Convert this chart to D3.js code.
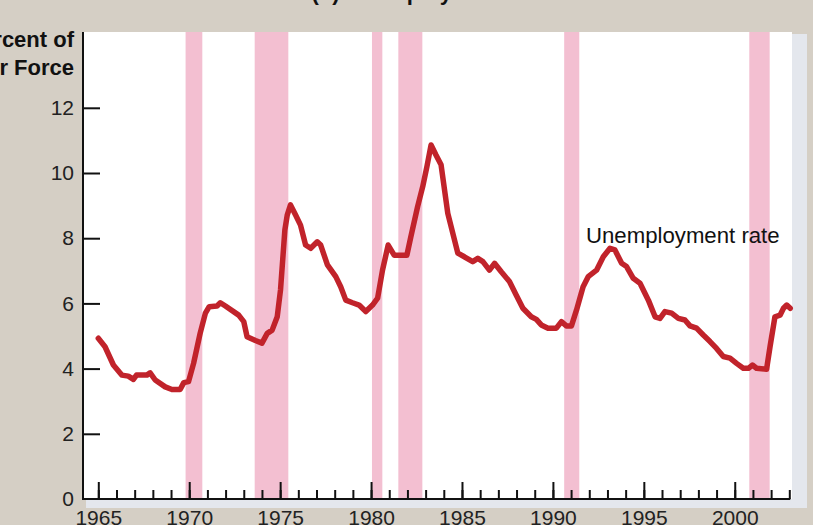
<!DOCTYPE html>
<html>
<head>
<meta charset="utf-8">
<script src="https://cdn.jsdelivr.net/npm/d3@7"></script>
<style>
  html, body { margin: 0; padding: 0; background: #d5cfc5; }
  svg { display: block; }
</style>
</head>
<body>
<svg id="chart" width="813" height="525"></svg>
<script>
// ---- Data ----
const years = [1965.0,1965.37,1965.83,1966.29,1966.65,1966.93,1967.1,1967.67,1967.85,1968.13,1968.68,1969.05,1969.5,1969.7,1969.96,1970.24,1970.6,1970.89,1971.1,1971.53,1971.71,1971.99,1972.72,1973.0,1973.18,1973.64,1974.0,1974.29,1974.56,1974.84,1975.02,1975.26,1975.39,1975.57,1975.85,1976.12,1976.4,1976.68,1977.04,1977.23,1977.6,1978.06,1978.33,1978.61,1978.98,1979.34,1979.71,1980.08,1980.36,1980.63,1980.94,1981.27,1981.97,1982.19,1982.56,1982.84,1983.07,1983.3,1983.57,1983.85,1984.22,1984.77,1985.13,1985.59,1985.87,1986.15,1986.51,1986.79,1987.16,1987.61,1987.98,1988.35,1988.81,1989.09,1989.36,1989.73,1990.19,1990.47,1990.74,1991.02,1991.3,1991.66,1991.94,1992.4,1992.77,1993.14,1993.41,1993.78,1994.05,1994.42,1994.79,1995.06,1995.25,1995.62,1995.89,1996.16,1996.53,1996.9,1997.26,1997.54,1997.9,1998.27,1998.64,1999.0,1999.37,1999.74,2000.1,2000.47,2000.75,2000.97,2001.2,2001.75,2001.94,2002.21,2002.49,2002.68,2002.86,2003.05];
const rates = [4.93,4.67,4.11,3.80,3.77,3.67,3.80,3.80,3.87,3.65,3.44,3.36,3.36,3.57,3.60,4.16,5.08,5.70,5.90,5.92,6.02,5.92,5.64,5.44,4.98,4.86,4.78,5.08,5.18,5.59,6.41,8.25,8.71,9.02,8.71,8.40,7.79,7.69,7.89,7.79,7.18,6.82,6.51,6.10,6.02,5.95,5.75,5.95,6.16,7.02,7.79,7.48,7.48,8.05,8.97,9.58,10.19,10.86,10.55,10.25,8.76,7.54,7.43,7.28,7.38,7.28,7.02,7.23,6.97,6.67,6.26,5.85,5.59,5.51,5.34,5.24,5.24,5.44,5.31,5.31,5.80,6.51,6.82,7.02,7.43,7.69,7.64,7.23,7.13,6.77,6.62,6.31,6.10,5.59,5.54,5.75,5.70,5.54,5.49,5.31,5.24,5.03,4.83,4.62,4.37,4.32,4.16,4.01,4.01,4.11,4.01,3.98,4.67,5.59,5.64,5.85,5.95,5.85];
const recessionStart = [1969.8, 1973.6, 1980.05, 1981.5, 1990.62, 2000.8];
const recessionEnd   = [1970.72, 1975.45, 1980.62, 1982.82, 1991.45, 2001.92];
const majorYears = [1965, 1970, 1975, 1980, 1985, 1990, 1995, 2000];
const minorYears = d3.range(1965, 2004);
const yTicks = [0, 2, 4, 6, 8, 10, 12];
const titleText = "(b) Unemployment";
const yLabelLines = ["Percent of", "Labor Force"];
const seriesLabel = "Unemployment rate";

// ---- Layout ----
const svg = d3.select("#chart");
const font = "'Liberation Sans', Arial, Helvetica, sans-serif";
const plotLeft = 83, plotTop = 32, plotRight = 792, axisY = 499;

const x = d3.scaleLinear().domain([1965, 2003]).range([98.3, 789.3]);
const y = d3.scaleLinear().domain([0, 12]).range([axisY, 107.8]);

// shadow + white plot panel
svg.append("rect").attr("x", plotLeft + 3).attr("y", plotTop + 2)
  .attr("width", 807 - plotLeft - 3).attr("height", 508 - plotTop - 2)
  .attr("fill", "#e4e7ed");
svg.append("rect").attr("x", plotLeft).attr("y", plotTop)
  .attr("width", plotRight - plotLeft).attr("height", axisY - plotTop)
  .attr("fill", "#ffffff");

// recession bands
svg.append("g").selectAll("rect")
  .data(recessionStart.map((s, i) => [s, recessionEnd[i]]))
  .join("rect")
  .attr("x", d => x(d[0]))
  .attr("width", d => x(d[1]) - x(d[0]))
  .attr("y", plotTop)
  .attr("height", axisY - plotTop)
  .attr("fill", "#f3bfd1");

// title (mostly cut off at top)
svg.append("text").attr("x", 408).attr("y", -0.5)
  .attr("text-anchor", "middle")
  .attr("font-family", font).attr("font-weight", "bold").attr("font-size", 22)
  .attr("fill", "#111").text(titleText);

// y axis label
svg.append("g").selectAll("text").data(yLabelLines).join("text")
  .attr("x", 74).attr("y", (d, i) => 47 + i * 28)
  .attr("text-anchor", "end")
  .attr("font-family", font).attr("font-weight", "bold").attr("font-size", 22)
  .attr("fill", "#111").text(d => d);

// y axis
const yAxis = svg.append("g").attr("transform", `translate(${plotLeft},0)`)
  .call(d3.axisLeft(y).tickValues(yTicks).tickSizeInner(-17).tickSizeOuter(0).tickPadding(9));
yAxis.select(".domain").remove();
yAxis.selectAll(".tick line").attr("stroke", "#111").attr("stroke-width", 2)
  .filter(d => d === 0).remove();
yAxis.selectAll(".tick text").attr("font-family", font).attr("font-size", 21).attr("fill", "#222");

// x axis minor ticks
const xMinor = svg.append("g").attr("transform", `translate(0,${axisY})`)
  .call(d3.axisBottom(x).tickValues(minorYears).tickSizeInner(-9).tickSizeOuter(0).tickFormat(""));
xMinor.select(".domain").remove();
xMinor.selectAll(".tick line").attr("stroke", "#111").attr("stroke-width", 2);

// x axis major ticks + labels
const xMajor = svg.append("g").attr("transform", `translate(0,${axisY})`)
  .call(d3.axisBottom(x).tickValues(majorYears).tickSizeInner(-17).tickSizeOuter(0)
    .tickPadding(11).tickFormat(d3.format("d")));
xMajor.select(".domain").remove();
xMajor.selectAll(".tick line").attr("stroke", "#111").attr("stroke-width", 2);
xMajor.selectAll(".tick text").attr("font-family", font).attr("font-size", 21).attr("fill", "#222");

// axis lines
svg.append("line").attr("x1", plotLeft).attr("x2", plotLeft)
  .attr("y1", plotTop).attr("y2", axisY + 1).attr("stroke", "#111").attr("stroke-width", 2);
svg.append("line").attr("x1", plotLeft - 1).attr("x2", x(2003) + 1)
  .attr("y1", axisY).attr("y2", axisY).attr("stroke", "#111").attr("stroke-width", 2);

// unemployment line
const line = d3.line().x((d, i) => x(years[i])).y(d => y(d)).curve(d3.curveLinear);
svg.append("path").datum(rates)
  .attr("d", line)
  .attr("fill", "none")
  .attr("stroke", "#c1232b")
  .attr("stroke-width", 5.5)
  .attr("stroke-linejoin", "round")
  .attr("stroke-linecap", "round");

// series label
svg.append("text").attr("x", 586).attr("y", 242.5)
  .attr("font-family", font).attr("font-size", 22.2).attr("fill", "#111")
  .text(seriesLabel);
</script>
</body>
</html>
